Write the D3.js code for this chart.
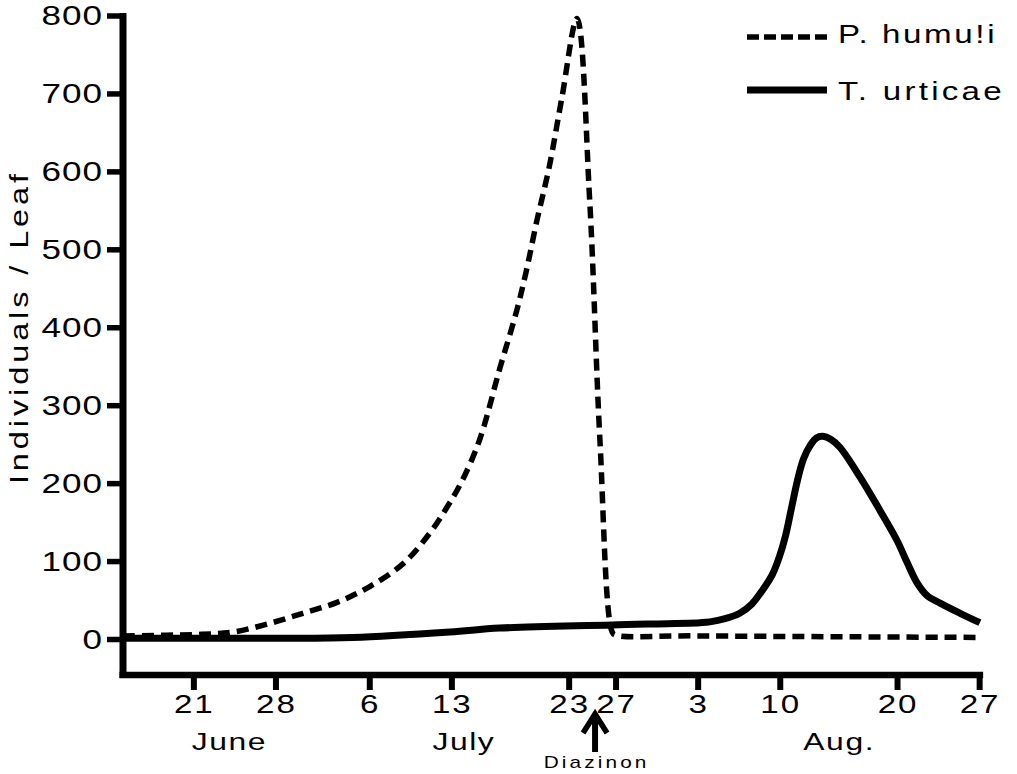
<!DOCTYPE html>
<html>
<head>
<meta charset="utf-8">
<script src="https://cdn.jsdelivr.net/npm/d3@7/dist/d3.min.js"></script>
<style>
  body { margin: 0; background: #fff; }
  text { font-family: "Liberation Sans", Arial, Helvetica, sans-serif; fill: #000; }
</style>
</head>
<body>
<svg id="chart" width="1017" height="774"></svg>
<script>
// ---------------- data ----------------
const yTickValues = [0, 100, 200, 300, 400, 500, 600, 700, 800];
const xTickDates = ["2000-06-21", "2000-06-28", "2000-07-06", "2000-07-13", "2000-07-23",
                    "2000-07-27", "2000-08-03", "2000-08-10", "2000-08-20", "2000-08-27"];
const xTickLabels = ["21", "28", "6", "13", "23", "27", "3", "10", "20", "27"];
const monthLabels = ["June", "July", "Aug."];
const monthDates = ["2000-06-24", "2000-07-14", "2000-08-15"];

const humuliDates = ["2000-06-15", "2000-06-21T16:00", "2000-06-24T10:00", "2000-06-27T12:00",
                     "2000-06-30T08:00", "2000-07-03T06:00", "2000-07-06", "2000-07-08T22:00",
                     "2000-07-11T04:00", "2000-07-12T15:00", "2000-07-13T22:00", "2000-07-15T10:00",
                     "2000-07-17T03:00", "2000-07-18T14:00", "2000-07-19T11:00", "2000-07-20T07:00",
                     "2000-07-21T08:00", "2000-07-22T10:00", "2000-07-23T17:00", "2000-07-24T19:00",
                     "2000-07-25T16:00", "2000-07-26T17:00", "2000-07-27", "2000-08-02T14:00",
                     "2000-08-27T06:00"];
const humuliValues = [4, 6, 9, 20, 33, 47, 67, 97, 136, 169, 203, 256, 347, 422, 477, 537, 605,
                      694, 796, 563, 255, 9, 5, 4, 2];

const urticaeDates = ["2000-06-15", "2000-06-21T16:00", "2000-06-28T11:00", "2000-07-04T14:00",
                      "2000-07-12T21:00", "2000-07-17T03:00", "2000-07-26T17:00", "2000-08-03T05:00",
                      "2000-08-04T01:00", "2000-08-05T08:00", "2000-08-06T14:00", "2000-08-07T15:00",
                      "2000-08-08T13:00", "2000-08-09T09:00", "2000-08-09T23:30", "2000-08-10T12:00",
                      "2000-08-11T00:00", "2000-08-11T12:00", "2000-08-12T00:30", "2000-08-12T15:00",
                      "2000-08-13T03:00", "2000-08-13T16:00", "2000-08-14T09:00", "2000-08-15T03:00",
                      "2000-08-16T20:00", "2000-08-18T13:00", "2000-08-19T23:30", "2000-08-20T20:00",
                      "2000-08-21T17:00", "2000-08-22T13:00", "2000-08-23T16:00", "2000-08-25T09:00",
                      "2000-08-27T01:30"];
const urticaeValues = [1, 1, 1, 2, 9, 14, 18, 21, 22, 26, 33, 45, 63, 83, 106, 133, 168, 203, 231,
                       249, 258, 260, 256, 246, 208, 165, 127, 99, 72, 56, 46, 33, 21];

const seriesNames = ["P. humu!i", "T. urticae"];
const diazinonDate = "2000-07-25T06:00";
const diazinonLabel = "Diazinon";
const yAxisTitle = "Individuals / Leaf";

// ---------------- layout ----------------
const plot = { left: 123, right: 985, top: 15.5, zero: 639 };
const xAxisY = 675;
const SX = 1.3; // horizontal stretch of the wide typeface

const parse = s => new Date(s);
const svg = d3.select("#chart");

const x = d3.scaleTime()
  .domain([parse("2000-06-15"), parse("2000-08-27T12:00")])
  .range([plot.left, plot.right]);
const y = d3.scaleLinear().domain([0, 800]).range([plot.zero, plot.top]);

function label(x0, y0, str, o) {
  const g = svg.append("g")
    .attr("transform", `translate(${x0},${y0}) rotate(${o.rotate || 0}) scale(${SX},1)`);
  const ls = o.ls || 0;
  const anchor = o.anchor || "start";
  const dx = anchor === "end" ? ls : anchor === "middle" ? ls / 2 : 0;
  g.append("text")
    .attr("x", dx)
    .attr("text-anchor", anchor)
    .style("font-size", o.size + "px")
    .style("letter-spacing", ls + "px")
    .text(str);
}

// ---------------- axes ----------------
const yAxis = d3.axisLeft(y).tickValues(yTickValues).tickSize(16).tickFormat("").tickSizeOuter(0);
const gy = svg.append("g").attr("transform", `translate(${plot.left},0)`).call(yAxis);
gy.select(".domain").remove();
gy.selectAll(".tick line").attr("stroke", "#000").attr("stroke-width", 5.5);
yTickValues.forEach(v => label(102, y(v) + 9.6, String(v), { size: 27, anchor: "end", ls: 0.8 }));

const xAxis = d3.axisBottom(x).tickValues(xTickDates.map(parse)).tickSize(15).tickFormat("").tickSizeOuter(0);
const gx = svg.append("g").attr("transform", `translate(0,${xAxisY})`).call(xAxis);
gx.select(".domain").remove();
gx.selectAll(".tick line").attr("stroke", "#000").attr("stroke-width", 6);
xTickDates.forEach((d, i) => label(x(parse(d)), 713, xTickLabels[i], { size: 25.5, anchor: "middle", ls: 1.5 }));
monthDates.forEach((d, i) => label(x(parse(d)), 750, monthLabels[i], { size: 24.5, anchor: "middle", ls: 1.2 }));

const lastTickX = x(parse(xTickDates[xTickDates.length - 1]));
svg.append("line")
  .attr("x1", plot.left).attr("x2", plot.left)
  .attr("y1", plot.top - 2.5).attr("y2", xAxisY + 3)
  .attr("stroke", "#000").attr("stroke-width", 7);
svg.append("line")
  .attr("x1", plot.left - 3.5).attr("x2", lastTickX + 4)
  .attr("y1", xAxisY).attr("y2", xAxisY)
  .attr("stroke", "#000").attr("stroke-width", 6.5);

label(28, 329, yAxisTitle, { size: 25, anchor: "middle", rotate: -90, ls: 3 });

// ---------------- series ----------------
const line = d3.line().x(d => x(d.date)).y(d => y(d.value)).curve(d3.curveCatmullRom.alpha(0.5));
const humuli = humuliDates.map((d, i) => ({ date: parse(d), value: humuliValues[i] }));
const urticae = urticaeDates.map((d, i) => ({ date: parse(d), value: urticaeValues[i] }));

svg.append("path").datum(urticae).attr("d", line)
  .attr("fill", "none").attr("stroke", "#000").attr("stroke-width", 7)
  .attr("stroke-linejoin", "round");

svg.append("path").datum(humuli).attr("d", line)
  .attr("fill", "none").attr("stroke", "#000").attr("stroke-width", 5.5)
  .attr("stroke-dasharray", "12,7").attr("stroke-linejoin", "round");

// ---------------- legend ----------------
const lg = { x1: 747, x2: 827, tx: 838 };
svg.append("line").attr("x1", lg.x1).attr("x2", lg.x2).attr("y1", 37).attr("y2", 37)
  .attr("stroke", "#000").attr("stroke-width", 5.5).attr("stroke-dasharray", "12,5");
svg.append("line").attr("x1", lg.x1).attr("x2", lg.x2).attr("y1", 90).attr("y2", 90)
  .attr("stroke", "#000").attr("stroke-width", 7);
label(lg.tx, 43, seriesNames[0], { size: 25.5, ls: 2 });
label(lg.tx, 100, seriesNames[1], { size: 25.5, ls: 2.5 });

// ---------------- Diazinon arrow ----------------
const ax = x(parse(diazinonDate));
svg.append("line").attr("x1", ax).attr("x2", ax).attr("y1", 716).attr("y2", 752)
  .attr("stroke", "#000").attr("stroke-width", 6);
svg.append("path")
  .attr("d", `M${ax - 12},733 L${ax},714 L${ax + 12},733`)
  .attr("fill", "none").attr("stroke", "#000").attr("stroke-width", 5.5)
  .attr("stroke-linejoin", "miter");
label(ax, 768, diazinonLabel, { size: 16, anchor: "middle", ls: 2.4 });
</script>
</body>
</html>
